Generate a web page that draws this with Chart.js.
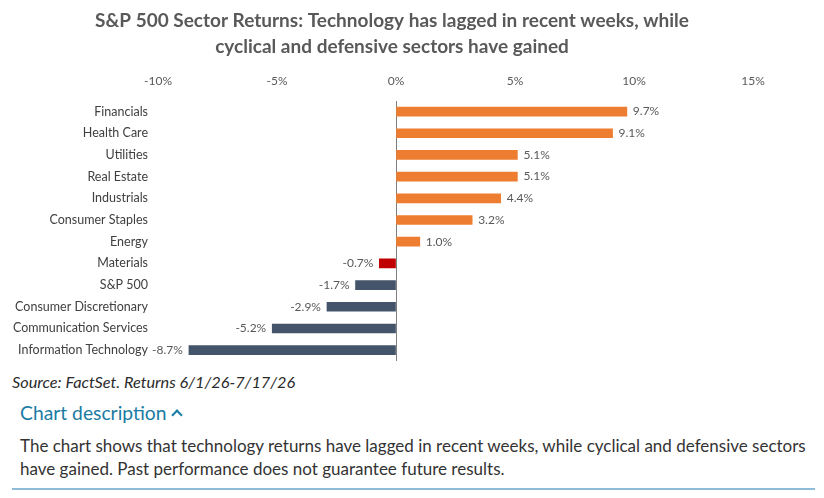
<!DOCTYPE html>
<html>
<head>
<meta charset="utf-8">
<script src="https://cdn.jsdelivr.net/npm/chart.js@4.4.1/dist/chart.umd.min.js"></script>
<style>
  body { margin: 0; background: #fff; width: 824px; height: 498px; overflow: hidden; font-family: Lato, sans-serif; }
  #wrap { position: absolute; left: 0; top: 0; width: 824px; height: 368px; }
  .source { position: absolute; left: 12px; top: 372px; font-style: italic; font-size: 16.3px; color: #2b2b2b; }
  .desc-head { position: absolute; left: 20px; top: 401px; font-size: 19.3px; color: #1a7ba3; }
  .chev { display: inline-block; width: 6px; height: 6px; border-left: 2px solid #1a7ba3; border-top: 2px solid #1a7ba3;
          transform: rotate(45deg); margin-left: 6px; position: relative; top: -1px; }
  .desc { position: absolute; left: 20px; top: 434px; width: 800px; font-size: 17px; line-height: 23px; color: #333; }
  .rule { position: absolute; left: 12px; top: 488px; width: 803px; height: 2px; background: #8dbcd8; }
</style>
</head>
<body>
<div id="wrap"><canvas id="myChart"></canvas></div>
<div class="source">Source: FactSet. Returns 6/1/26-7/17/26</div>
<div class="desc-head">Chart description<span class="chev"></span></div>
<div class="desc">The chart shows that technology returns have lagged in recent weeks, while cyclical and defensive sectors have gained. Past performance does not guarantee future results.</div>
<div class="rule"></div>
<script>
const sectors = ['Financials', 'Health Care', 'Utilities', 'Real Estate', 'Industrials', 'Consumer Staples',
    'Energy', 'Materials', 'S&P 500', 'Consumer Discretionary', 'Communication Services', 'Information Technology']
const returns = [9.7, 9.1, 5.1, 5.1, 4.4, 3.2, 1.0, -0.7, -1.7, -2.9, -5.2, -8.7]
const xTicks = [-10, -5, 0, 5, 10, 15]

const barColor = (v, i) => v >= 0 ? '#ed7d31' : (sectors[i] === 'Materials' ? '#c00000' : '#44546a')

// value labels next to bar ends
const valueLabels = {
    id: 'valueLabels',
    afterDatasetsDraw(chart) {
        const ctx = chart.ctx
        const meta = chart.getDatasetMeta(0)
        ctx.save()
        ctx.font = '12px Lato'
        ctx.fillStyle = '#595959'
        ctx.textBaseline = 'middle'
        meta.data.forEach((bar, i) => {
            const v = returns[i]
            const txt = v.toFixed(1) + '%'
            if (v >= 0) {
                ctx.textAlign = 'left'
                ctx.fillText(txt, bar.x + 6, bar.y)
            } else {
                ctx.textAlign = 'right'
                ctx.fillText(txt, bar.x - 6, bar.y)
            }
        })
        ctx.restore()
    }
}

new Chart(document.getElementById('myChart'), {
    type: 'bar',
    data: {
        labels: sectors,
        datasets: [{
            data: returns,
            backgroundColor: returns.map(barColor),
            barThickness: 9,
            borderWidth: 0
        }]
    },
    options: {
        indexAxis: 'y',
        responsive: true,
        maintainAspectRatio: false,
        animation: false,
        layout: { padding: { left: 31, right: 71, top: 8, bottom: 7 } },
        plugins: {
            legend: { display: false },
            tooltip: { enabled: false },
            title: {
                display: true,
                text: ['S&P 500 Sector Returns: Technology has lagged in recent weeks, while',
                    'cyclical and defensive sectors have gained'],
                color: '#595959',
                font: { family: 'Lato', size: 19, weight: 'bold', lineHeight: 1.35 },
                padding: { top: 0, bottom: 3 }
            }
        },
        scales: {
            x: {
                position: 'top',
                min: -10,
                max: 15,
                afterBuildTicks: s => { s.ticks = xTicks.map(v => ({ value: v })) },
                afterFit: s => { s.paddingLeft = 0; s.paddingRight = 0 },
                border: { display: false },
                grid: {
                    drawTicks: false,
                    color: c => c.tick && c.tick.value === 0 ? '#7f7f7f' : 'transparent',
                    lineWidth: 1
                },
                ticks: {
                    callback: v => v + '%',
                    color: '#595959',
                    font: { family: 'Lato', size: 12 },
                    padding: 12
                }
            },
            y: {
                afterFit: s => {
                    s.width = 127
                    s.paddingTop = 0
                    s.paddingBottom = 0
                    // long labels run past the axis box into the left padding, so don't clip them
                    s._computeLabelArea = () => null
                },
                border: { display: false },
                grid: { display: false, drawTicks: false },
                ticks: {
                    color: '#404040',
                    font: { family: 'Lato', size: 12.5 },
                    padding: 10
                }
            }
        }
    },
    plugins: [valueLabels]
})
</script>
</body>
</html>
